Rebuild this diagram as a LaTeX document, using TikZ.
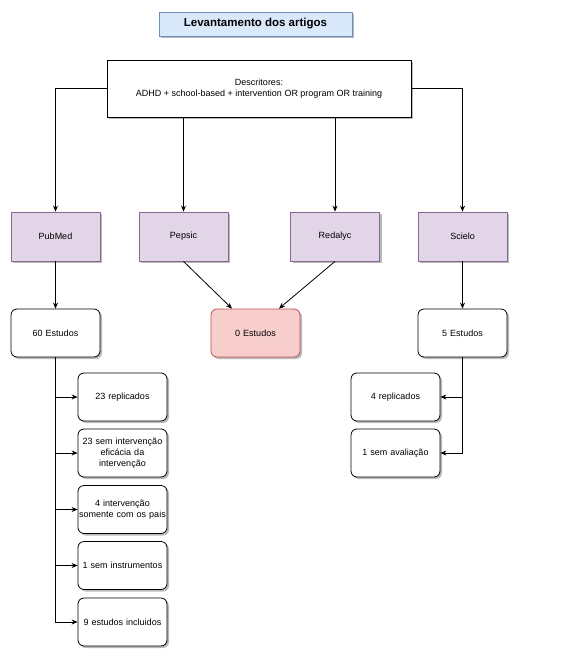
\documentclass[tikz,border=0pt]{standalone}
\usepackage{fontspec}
\setmainfont{Liberation Sans}
\usetikzlibrary{arrows.meta,shadows}
\definecolor{tblue}{HTML}{DAE8FC}
\definecolor{tblueb}{HTML}{6C8EBF}
\definecolor{tpurp}{HTML}{E1D5E7}
\definecolor{tpurpb}{HTML}{9673A6}
\definecolor{tred}{HTML}{F8CECC}
\definecolor{tredb}{HTML}{B85450}
\begin{document}
\begin{tikzpicture}[x=1pt,y=-1pt,
  shd/.style={drop shadow={shadow xshift=2pt,shadow yshift=-2pt,opacity=0.5,fill=black!55}},
  base/.style={draw, line width=0.8pt, inner sep=1pt, align=center, font=\fontsize{9}{11}\selectfont, shd},
  titlebox/.style={base, fill=tblue, draw=tblueb, minimum width=193pt, minimum height=24pt, font=\fontsize{11.5}{13}\selectfont\bfseries},
  descbox/.style={base, fill=white, minimum width=304pt, minimum height=57pt},
  dbbox/.style={base, fill=tpurp, draw=tpurpb!90!black, minimum width=89pt, minimum height=49pt},
  resbox/.style={base, fill=white, rounded corners=6pt, minimum width=89pt, minimum height=48pt, text width=87pt},
  zerobox/.style={resbox, fill=tred, draw=tredb},
  conn/.style={draw, line width=0.8pt, -{Stealth[length=6pt,width=5pt]}}
]
\useasboundingbox (0,0) rectangle (567,663);
\node[titlebox] (title) at (255.5,24) {Levantamento dos artigos};
\node[descbox] (desc) at (259,88.5) {Descritores:\\ADHD + school-based + intervention OR program OR training};
\node[dbbox] (pub) at (55.5,236.5) {PubMed};
\node[dbbox] (pep) at (183.5,236.5) {Pepsic};
\node[dbbox] (red) at (335,236.5) {Redalyc};
\node[dbbox] (sci) at (462.5,236.5) {Scielo};
\node[resbox] (e60) at (55.5,333) {60 Estudos};
\node[zerobox] (e0) at (255.5,333) {0 Estudos};
\node[resbox] (e5) at (462.5,333) {5 Estudos};
\node[resbox] (l1) at (122.5,397) {23 replicados};
\node[resbox] (l2) at (122.5,453) {23 sem intervenção\\eficácia da\\intervenção};
\node[resbox] (l3) at (122.5,509.5) {4 intervenção\\somente com os pais};
\node[resbox] (l4) at (122.5,565.5) {1 sem instrumentos};
\node[resbox] (l5) at (122.5,622) {9 estudos incluidos};
\node[resbox] (r1) at (395.5,397) {4 replicados};
\node[resbox] (r2) at (395.5,453) {1 sem avaliação};
% connectors
\draw[conn] (desc.west) -| (pub.north);
\draw[conn] (desc.east) -| (sci.north);
\draw[conn] (pep.north |- desc.south) -- (pep.north);
\draw[conn] (red.north |- desc.south) -- (red.north);
\draw[conn] (pep.south) -- ([xshift=-23.5pt]e0.north);
\draw[conn] (red.south) -- ([xshift=23.5pt]e0.north);
\draw[conn] (pub.south) -- (e60.north);
\draw[conn] (sci.south) -- (e5.north);
\foreach \n in {l1,l2,l3,l4,l5} \draw[conn] (e60.south) |- (\n.west);
\foreach \n in {r1,r2} \draw[conn] (e5.south) |- (\n.east);
\end{tikzpicture}
\end{document}
